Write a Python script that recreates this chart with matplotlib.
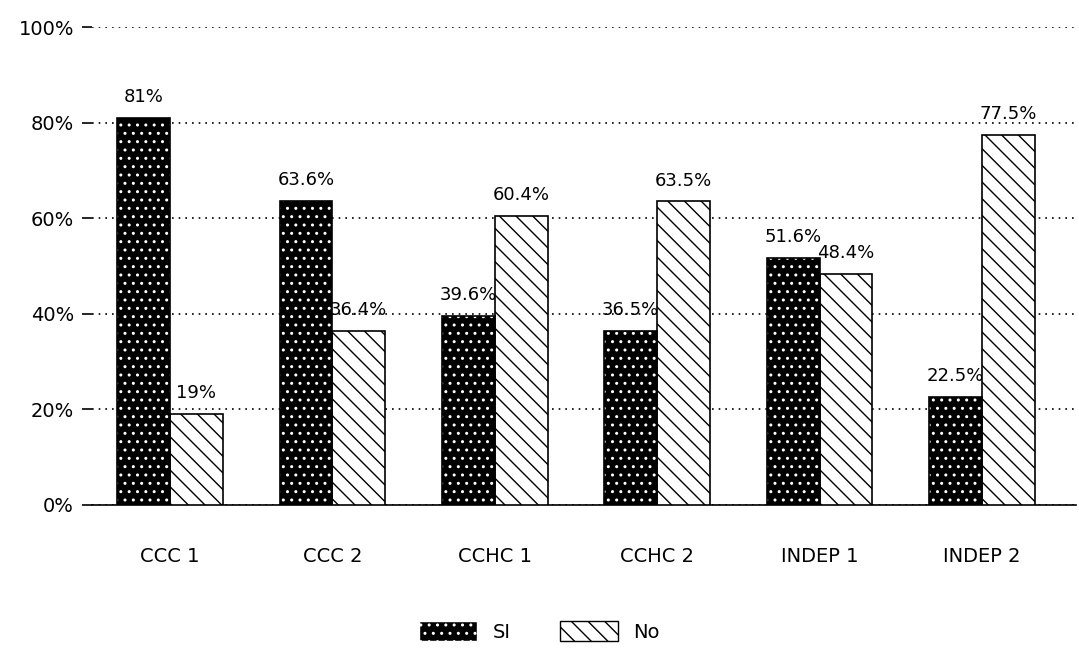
import matplotlib
matplotlib.use("Agg")
import matplotlib.pyplot as plt
import numpy as np
from matplotlib.patches import Patch

categories = ["CCC 1", "CCC 2", "CCHC 1", "CCHC 2", "INDEP 1", "INDEP 2"]
si_values = [81, 63.6, 39.6, 36.5, 51.6, 22.5]
no_values = [19, 36.4, 60.4, 63.5, 48.4, 77.5]
si_labels = ["81%", "63.6%", "39.6%", "36.5%", "51.6%", "22.5%"]
no_labels = ["19%", "36.4%", "60.4%", "63.5%", "48.4%", "77.5%"]
series_names = ["SI", "No"]
yticks = [0, 20, 40, 60, 80, 100]
ytick_labels = ["0%", "20%", "40%", "60%", "80%", "100%"]

plt.rcParams['font.family'] = ['DejaVu Sans']
plt.rcParams['hatch.linewidth'] = 1.0

fig = plt.figure(figsize=(10.79, 6.51), dpi=100)
ax = fig.add_axes([0.0853, 0.2243, 0.912, 0.7342])

x = np.arange(len(categories))
w = 0.325

# Si bars: black with white speckle
ax.bar(x - w / 2, si_values, w, facecolor="black", edgecolor="white",
       hatch="..", linewidth=0, zorder=3)
ax.bar(x - w / 2, si_values, w, facecolor="none", edgecolor="black",
       linewidth=1.2, zorder=4)
# No bars: white with diagonal lines
ax.bar(x + w / 2, no_values, w, facecolor="white", edgecolor="black",
       hatch="\\\\", linewidth=1.2, zorder=3)

for xi, v, lab in zip(x - w / 2, si_values, si_labels):
    ax.text(xi, v + 2.5, lab, ha="center", va="bottom", fontsize=13,
            color="black", zorder=2)
for xi, v, lab in zip(x + w / 2, no_values, no_labels):
    ax.text(xi, v + 2.5, lab, ha="center", va="bottom", fontsize=13,
            color="black", zorder=2)

ax.set_xlim(-0.48, 5.58)
ax.set_ylim(0, 100)
ax.set_yticks(yticks)
ax.set_yticklabels(ytick_labels, fontsize=14)
ax.set_xticks(x)
ax.set_xticklabels(categories, fontsize=14)
ax.tick_params(axis="x", length=0, pad=30)
ax.tick_params(axis="y", length=7, width=1.2, pad=6)

for s in ["top", "right", "left"]:
    ax.spines[s].set_visible(False)
ax.spines["bottom"].set_linewidth(1.2)
ax.yaxis.grid(True, linestyle=(0, (1, 3)), color="black", linewidth=1.2)
ax.set_axisbelow(True)

h1 = Patch(facecolor="black", edgecolor="white", hatch="..")
h2 = Patch(facecolor="white", edgecolor="black", hatch="\\\\")
fig.legend([h1, h2], series_names, loc="center", bbox_to_anchor=(0.5, 0.03),
           ncol=2, frameon=False, fontsize=14, handlelength=3, handleheight=1.2,
           columnspacing=2.5)

fig.savefig("out.png", dpi=100, facecolor="white")
